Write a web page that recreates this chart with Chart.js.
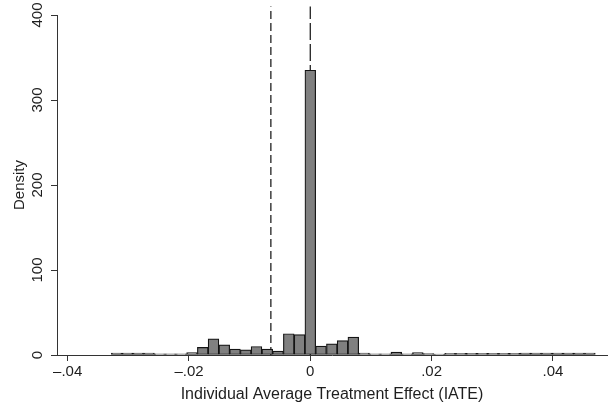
<!DOCTYPE html>
<html>
<head>
<meta charset="utf-8">
<script src="https://cdn.jsdelivr.net/npm/chart.js@4.4.1/dist/chart.umd.min.js"></script>
<style>
  body { margin: 0; background: #fff; }
  canvas { display: block; }
</style>
</head>
<body>
<canvas id="histChart" width="609" height="404"></canvas>
<script>
// histogram bins (bin centers) and densities
const binCenters = [
  -0.03191, -0.03014, -0.02837, -0.02659, -0.02482, -0.02305, -0.02128, -0.01950,
  -0.01773, -0.01596, -0.01418, -0.01241, -0.01064, -0.00887, -0.00709, -0.00532,
  -0.00355, -0.00177, 0.00000, 0.00177, 0.00355, 0.00532, 0.00709, 0.00887,
  0.01064, 0.01241, 0.01418, 0.01596, 0.01773, 0.01950, 0.02128, 0.02305,
  0.02482, 0.02659, 0.02837, 0.03014, 0.03191, 0.03369, 0.03546, 0.03723,
  0.03900, 0.04078, 0.04255, 0.04432, 0.04610
];
const density = [
  2.4, 2.4, 2.4, 2.4, 1.5, 1.5, 1.5, 2.8,
  9, 19, 12, 7, 6, 10, 7, 4.5,
  25, 24, 335, 10.5, 13, 17, 21, 2.2,
  1.5, 1.5, 3.5, 1.5, 2.8, 1.8, 1, 2,
  2, 2, 2, 2, 2, 2, 2.4, 2.4,
  2.4, 2.4, 2.4, 2.4, 2.4
];

// vertical reference lines (xline)
const refLineShort = -0.0065;
const refLineLong = 0;
const refLineTop = 410;

// axes
const xTickValues = [-0.04, -0.02, 0, 0.02, 0.04];
const xTickLabels = ['\u2013.04', '\u2013.02', '0', '.02', '.04'];
const yTickValues = [0, 100, 200, 300, 400];
const yTickLabels = ['0', '100', '200', '300', '400'];

const FONT = '"Liberation Sans", Arial, Helvetica, sans-serif';
const INK = '#1e1e1e';

// rotated y tick labels, Stata style
const yLabelPlugin = {
  id: 'yLabelPlugin',
  afterDraw(chart) {
    const y = chart.scales.y;
    const ctx = chart.ctx;
    ctx.save();
    ctx.font = '15px ' + FONT;
    ctx.fillStyle = INK;
    ctx.textAlign = 'center';
    ctx.textBaseline = 'middle';
    y.ticks.forEach((t, i) => {
      const py = y.getPixelForValue(t.value);
      ctx.save();
      ctx.translate(y.right - 19, py);
      ctx.rotate(-Math.PI / 2);
      ctx.fillText(yTickLabels[i], 0, 0);
      ctx.restore();
    });
    ctx.restore();
  }
};

const ctx = document.getElementById('histChart').getContext('2d');
const histChart = new Chart(ctx, {
  data: {
    datasets: [
      {
        type: 'bar',
        data: binCenters.map((c, i) => ({ x: c, y: density[i] })),
        backgroundColor: '#808080',
        borderColor: '#141414',
        borderWidth: 1.2,
        borderSkipped: false,
        barPercentage: 1,
        categoryPercentage: 1,
        order: 0
      },
      {
        type: 'line',
        data: [{ x: refLineShort, y: 0 }, { x: refLineShort, y: refLineTop }],
        borderColor: '#222',
        borderWidth: 1.3,
        borderDash: [8, 4],
        pointRadius: 0,
        clip: false,
        order: 1
      },
      {
        type: 'line',
        data: [{ x: refLineLong, y: 0 }, { x: refLineLong, y: refLineTop }],
        borderColor: '#222',
        borderWidth: 1.3,
        borderDash: [17, 4],
        pointRadius: 0,
        clip: false,
        order: 1
      }
    ]
  },
  options: {
    responsive: false,
    animation: false,
    layout: { padding: { top: 15, right: 2, left: 0, bottom: 0 } },
    plugins: { legend: { display: false }, tooltip: { enabled: false } },
    scales: {
      x: {
        type: 'linear',
        offset: false,
        min: -0.04176,
        max: 0.04892,
        afterBuildTicks: s => { s.ticks = xTickValues.map(v => ({ value: v })); },
        afterFit: s => { s.height = 49; },
        grid: { offset: false, drawOnChartArea: false, drawTicks: true, tickLength: 6, tickColor: '#333' },
        border: { display: true, color: '#333', width: 1 },
        ticks: {
          padding: 2,
          color: INK,
          font: { family: FONT, size: 15 },
          maxRotation: 0,
          callback: (v, i) => xTickLabels[i]
        },
        title: {
          display: true,
          text: 'Individual Average Treatment Effect (IATE)',
          color: INK,
          font: { family: FONT, size: 16 },
          padding: { top: 6, bottom: 0 }
        }
      },
      y: {
        min: 0,
        max: 400,
        afterBuildTicks: s => { s.ticks = yTickValues.map(v => ({ value: v })); },
        afterFit: s => { s.width = 57; },
        grid: { drawOnChartArea: false, drawTicks: true, tickLength: 6, tickColor: '#333' },
        border: { display: true, color: '#333', width: 1 },
        ticks: { display: false },
        title: {
          display: true,
          text: 'Density',
          color: INK,
          font: { family: FONT, size: 15 },
          padding: { top: 11, bottom: 0 }
        }
      }
    }
  },
  plugins: [yLabelPlugin]
});
</script>
</body>
</html>
